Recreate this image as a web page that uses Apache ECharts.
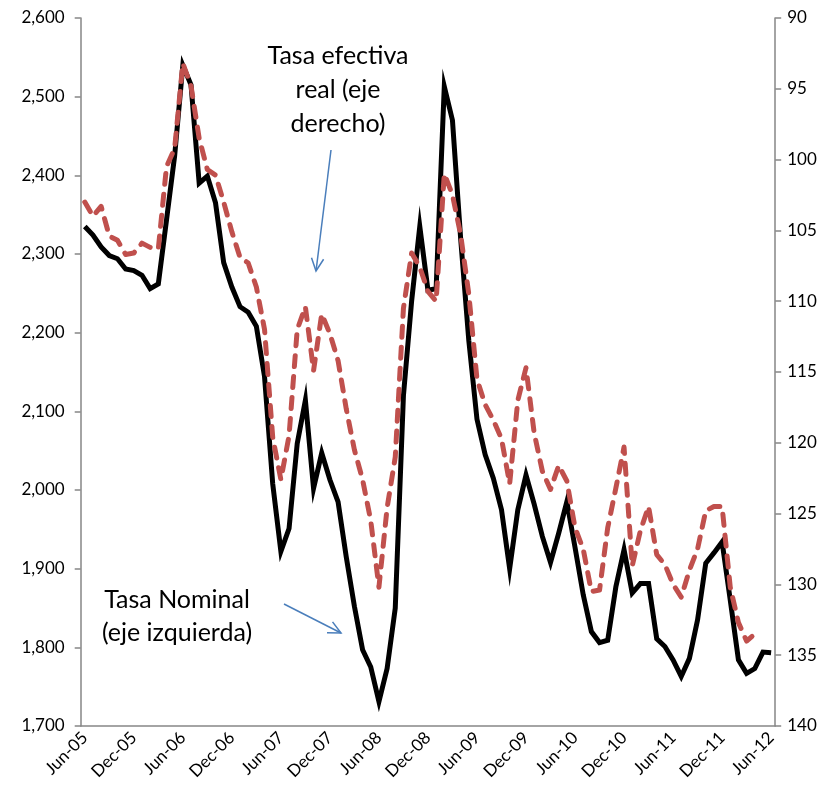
<!DOCTYPE html>
<html><head><meta charset="utf-8">
<script src="https://cdn.jsdelivr.net/npm/echarts@6/dist/echarts.min.js"></script>
<style>html,body{margin:0;padding:0;background:#fff}#c{width:827px;height:798px}</style>
</head><body><div id="c"></div>
<script>
// Categories: monthly from Jun-05 to Jun-12
const monthNames = ['Jan','Feb','Mar','Apr','May','Jun','Jul','Aug','Sep','Oct','Nov','Dec'];
const categories = [];
for (let k = 0; k < 85; k++) {
  const t = 5 + k;
  categories.push(monthNames[t % 12] + '-' + String(2005 + Math.floor(t / 12)).slice(2));
}

// Tasa Nominal (eje izquierdo)
const nominal = [
  2335, 2324, 2309, 2298, 2294, 2281, 2279, 2273, 2256, 2262,
  2343, 2425, 2540, 2515, 2390, 2399, 2365, 2289, 2258, 2233,
  2226, 2208, 2144, 2008, 1922, 1951, 2059, 2114, 2002, 2047,
  2013, 1985, 1915, 1852, 1797, 1775, 1731, 1773, 1850, 2120,
  2240, 2335, 2254, 2256, 2513, 2470, 2320, 2190, 2090, 2045,
  2015, 1975, 1900, 1975, 2019, 1982, 1941, 1908, 1945, 1985,
  1927, 1867, 1820, 1806, 1809, 1877, 1924, 1869, 1881, 1881,
  1811, 1801, 1784, 1763, 1786, 1835, 1907, 1920, 1934, 1860,
  1784, 1767, 1773, 1794, 1793
];

// Tasa efectiva real (eje derecho, invertido)
const real = [
  103.0, 104.0, 103.3, 105.4, 105.7, 106.7, 106.6, 105.9, 106.2, 106.3,
  100.5, 99.2, 93.2, 94.8, 98.5, 100.7, 101.1, 103.0, 105.1, 106.9,
  107.3, 109.0, 112.0, 119.6, 122.6, 119.5, 112.0, 110.4, 114.9, 110.9,
  112.3, 114.2, 117.6, 120.5, 122.6, 125.5, 130.2, 124.6, 121.0, 110.5,
  106.6, 107.6, 109.3, 110.0, 101.0, 102.5, 105.3, 109.5, 115.5, 117.3,
  118.4, 119.7, 122.9, 117.0, 114.7, 119.3, 122.0, 123.3, 121.6, 122.7,
  126.0, 127.5, 130.5, 130.4, 126.0, 123.2, 120.3, 128.7, 126.2, 124.5,
  127.9, 128.6, 130.0, 130.9, 129.0, 127.5, 124.8, 124.5, 124.5, 130.2,
  132.7, 134.0, 133.5, null, null
];

const leftAxis = { min: 1700, max: 2600, interval: 100 };
const rightAxis = { min: 90, max: 140, interval: 5 };

const FONT = 'Lato';
const axisGray = '#868686';

const chart = echarts.init(document.getElementById('c'), null, { renderer: 'canvas' });

function arrow(x1, y1, x2, y2, head) {
  const a = Math.atan2(y2 - y1, x2 - x1);
  const s = 0.45;
  return [
    { type: 'line', shape: { x1, y1, x2, y2 }, style: { stroke: '#4A7EBB', lineWidth: 1.5 }, z: 100 },
    { type: 'polyline', shape: { points: [
        [x2 - head * Math.cos(a - s), y2 - head * Math.sin(a - s)],
        [x2, y2],
        [x2 - head * Math.cos(a + s), y2 - head * Math.sin(a + s)]
      ] }, style: { stroke: '#4A7EBB', lineWidth: 1.5, fill: null }, z: 100 }
  ];
}

chart.setOption({
  animation: false,
  backgroundColor: '#fff',
  grid: { left: 80.7, right: 51.8, top: 18, bottom: 72, containLabel: false },
  xAxis: {
    type: 'category',
    data: categories,
    boundaryGap: true,
    axisLine: { lineStyle: { color: axisGray, width: 1.5 } },
    axisTick: { interval: 5, length: 6, lineStyle: { color: axisGray, width: 1.5 } },
    axisLabel: { interval: 5, rotate: 45, color: '#000', fontFamily: FONT, fontSize: 17, margin: 9 },
    splitLine: { show: false }
  },
  yAxis: [
    {
      type: 'value', position: 'left',
      min: leftAxis.min, max: leftAxis.max, interval: leftAxis.interval,
      axisLine: { show: true, lineStyle: { color: axisGray, width: 1.5 } },
      axisTick: { show: true, length: 6, lineStyle: { color: axisGray, width: 1.5 } },
      axisLabel: { color: '#000', fontFamily: FONT, fontSize: 17, margin: 16,
        formatter: v => v.toLocaleString('en-US') },
      splitLine: { show: false }
    },
    {
      type: 'value', position: 'right', inverse: true,
      min: rightAxis.min, max: rightAxis.max, interval: rightAxis.interval,
      axisLine: { show: true, lineStyle: { color: axisGray, width: 1.5 } },
      axisTick: { show: true, length: 6, lineStyle: { color: axisGray, width: 1.5 } },
      axisLabel: { color: '#000', fontFamily: FONT, fontSize: 17, margin: 12 },
      splitLine: { show: false }
    }
  ],
  series: [
    {
      name: 'Tasa Nominal', type: 'line', yAxisIndex: 0, data: nominal,
      showSymbol: false, symbol: 'none',
      lineStyle: { color: '#000', width: 5, join: 'miter' }, z: 3
    },
    {
      name: 'Tasa efectiva real', type: 'line', yAxisIndex: 1, data: real,
      showSymbol: false, symbol: 'none',
      lineStyle: { color: '#C0504D', width: 5, type: [11, 10], cap: 'round', join: 'round' }, z: 4
    }
  ],
  graphic: [
    { type: 'text', z: 100, style: { text: 'Tasa efectiva\nreal (eje\nderecho)', x: 338, y: 39,
      textAlign: 'center', textVerticalAlign: 'top', font: '25px Lato', lineHeight: 34, fill: '#000' } },
    { type: 'text', z: 100, style: { text: 'Tasa Nominal\n(eje izquierda)', x: 177, y: 583,
      textAlign: 'center', textVerticalAlign: 'top', font: '25px Lato', lineHeight: 33, fill: '#000' } },
    ...arrow(331, 150, 316, 271, 14),
    ...arrow(284, 604, 341, 633, 14)
  ]
});
</script>
</body></html>
